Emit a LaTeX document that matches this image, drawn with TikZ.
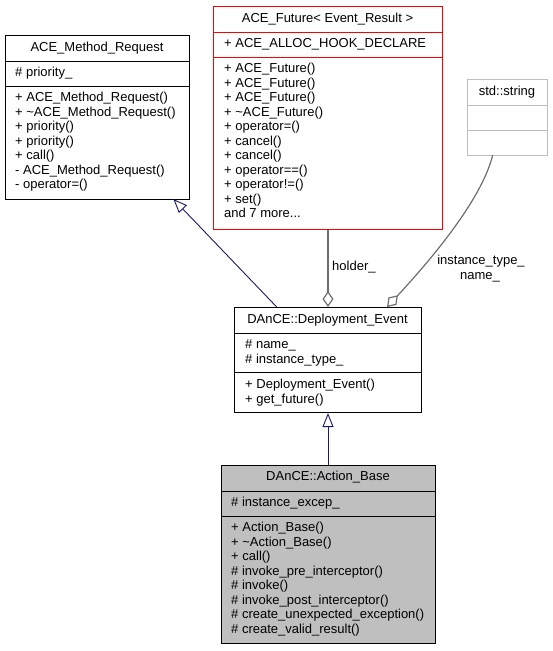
\documentclass[tikz,border=0pt]{standalone}
\usepackage{fontspec}
\setmainfont{Liberation Sans}
\usetikzlibrary{arrows.meta}
\definecolor{inh}{HTML}{191970}
\definecolor{usecol}{HTML}{6E6E6E}
\definecolor{strgray}{HTML}{BFBFBF}
\definecolor{abfill}{HTML}{BFBFBF}
\definecolor{futred}{HTML}{FF0000}
\begin{document}
\begin{tikzpicture}[x=1pt,y=-1pt,
  box/.style={draw=black, line width=1pt, inner sep=0pt, anchor=north west, rectangle},
  sepline/.style={line width=1pt},
  ttl/.style={anchor=base, inner sep=0pt, font=\fontsize{13}{14.5}\selectfont},
  mem/.style={anchor=base west, inner sep=0pt, font=\fontsize{13}{14.5}\selectfont},
  lbl/.style={anchor=base, inner sep=0pt, font=\fontsize{13}{14.5}\selectfont},
  inhline/.style={draw=inh, line width=0.9pt, -{Triangle[open, length=14pt, width=11pt]}},
  useline/.style={draw=usecol, line width=1.2pt, -{Diamond[open, length=16pt, width=11pt]}}
]
\useasboundingbox (0,0) rectangle (552,651);

% ---------- ACE_Method_Request ----------
\node[box, minimum width=184pt, minimum height=164pt] (mr) at (5,35) {};
\draw[sepline] (5,61) -- (189,61);
\draw[sepline] (5,86) -- (189,86);
\node[ttl] (mrt) at (97,51.7) {ACE\_Method\_Request};
\node[mem] (mra) at (15,76.7) {\# priority\_};
\foreach \t [count=\i from 0] in {%
  {+ ACE\_Method\_Request()},
  {+ \textasciitilde ACE\_Method\_Request()},
  {+ priority()},
  {+ priority()},
  {+ call()},
  {- ACE\_Method\_Request()},
  {- operator=()}}
  \node[mem] (mrm\i) at (15,{101.7+14.5*\i}) {\t};

% ---------- ACE_Future< Event_Result > ----------
\node[box, draw=futred, minimum width=229pt, minimum height=223pt] (af) at (213,6) {};
\draw[sepline, futred] (213,32) -- (442,32);
\draw[sepline, futred] (213,57) -- (442,57);
\node[ttl] (aft) at (327.5,22.2) {ACE\_Future< Event\_Result >};
\node[mem] (afa) at (224,47.5) {+ ACE\_ALLOC\_HOOK\_DECLARE};
\foreach \t [count=\i from 0] in {%
  {+ ACE\_Future()},
  {+ ACE\_Future()},
  {+ ACE\_Future()},
  {+ \textasciitilde ACE\_Future()},
  {+ operator=()},
  {+ cancel()},
  {+ cancel()},
  {+ operator==()},
  {+ operator!=()},
  {+ set()}}
  \node[mem] (afm\i) at (224,{72.7+14.5*\i}) {\t};
\node[mem] (afmore) at (224,{72.7+14.5*10}) {and 7 more...};

% ---------- std::string ----------
\node[box, draw=strgray, minimum width=80pt, minimum height=76pt] (str) at (467,79) {};
\draw[sepline, strgray] (467,105) -- (547,105);
\draw[sepline, strgray] (467,130) -- (547,130);
\node[ttl] (strt) at (507,95.5) {std::string};

% ---------- DAnCE::Deployment_Event ----------
\node[box, minimum width=187pt, minimum height=105pt] (de) at (234,307) {};
\draw[sepline] (234,333) -- (421,333);
\draw[sepline] (234,372) -- (421,372);
\node[ttl] (det) at (327.5,323.3) {DAnCE::Deployment\_Event};
\node[mem] (dea0) at (245,348.7) {\# name\_};
\node[mem] (dea1) at (245,363.2) {\# instance\_type\_};
\node[mem] (dem0) at (245,388.5) {+ Deployment\_Event()};
\node[mem] (dem1) at (245,403) {+ get\_future()};

% ---------- DAnCE::Action_Base ----------
\node[box, fill=abfill, minimum width=214pt, minimum height=178pt] (ab) at (221,465) {};
\draw[sepline] (221,491) -- (435,491);
\draw[sepline] (221,516) -- (435,516);
\node[ttl] (abt) at (328,480.7) {DAnCE::Action\_Base};
\node[mem] (aba) at (231,506.7) {\# instance\_excep\_};
\foreach \t [count=\i from 0] in {%
  {+ Action\_Base()},
  {+ \textasciitilde Action\_Base()},
  {+ call()},
  {\# invoke\_pre\_interceptor()},
  {\# invoke()},
  {\# invoke\_post\_interceptor()},
  {\# create\_unexpected\_exception()},
  {\# create\_valid\_result()}}
  \node[mem] (abm\i) at (231,{531.7+14.5*\i}) {\t};

% ---------- connectors ----------
\coordinate (mrfoot) at (173.3,199);
\coordinate (detopa) at (276.7,307);
\coordinate (strfoot) at (492.7,155);
\coordinate (detopb) at (387,307);

\draw[inhline] (detopa) -- (mrfoot);
\draw[inhline] (ab.north -| de.south) -- (de.south);
\draw[useline] (af.south) -- (de.north);
\draw[useline] (strfoot) .. controls (483,195) and (440,250) .. (detopb);

\node[mem] (holder) at (332,270.5) {holder\_};
\node[lbl] (lblit) at (481,264) {instance\_type\_};
\node[lbl] (lblnm) at (480,279) {name\_};
\end{tikzpicture}
\end{document}
